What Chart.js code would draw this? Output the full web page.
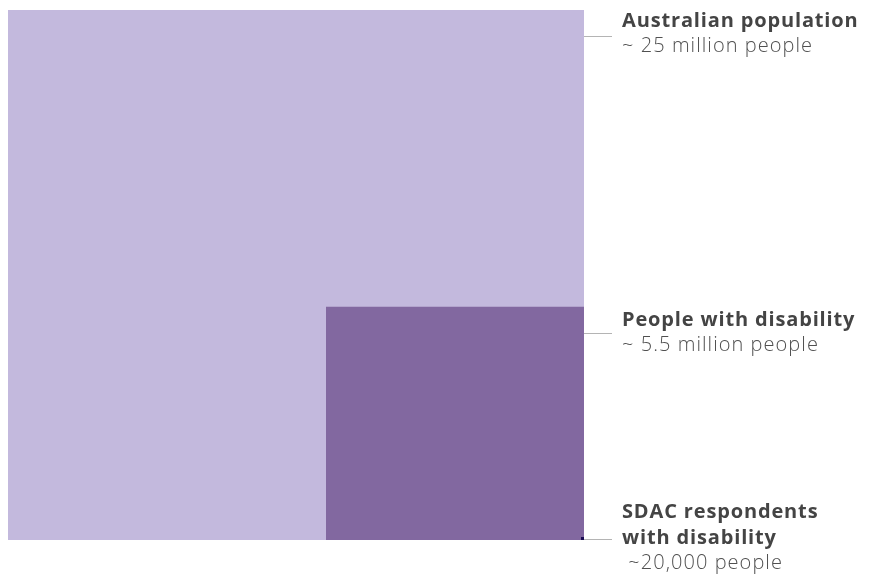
<!DOCTYPE html>
<html>
<head>
<meta charset="utf-8">
<script src="https://cdn.jsdelivr.net/npm/chart.js@4.4.1/dist/chart.umd.min.js"></script>
<style>
  html, body { margin: 0; padding: 0; background: #fff; }
  #wrap { width: 871px; height: 581px; }
</style>
</head>
<body>
<div id="wrap"><canvas id="chart"></canvas></div>
<script>
"use strict";

// groups, largest first; each box sits in the bottom-right corner of the outer box
var groupNames = ['Australian population', 'People with disability', 'SDAC respondents with disability'];
var groupTitles = [['Australian population'], ['People with disability'], ['SDAC respondents', 'with disability']];
var groupCounts = ['~ 25 million people', '~ 5.5 million people', ' ~20,000 people'];
// box size as a share of the outer box
var boxWidths = [1, 0.448, 0.0052];
var boxHeights = [1, 0.44, 0.0057];
var boxColors = ['#c3b9dd', '#8268a0', '#1b0d55'];

var datasets = groupNames.map(function (name, i) {
    return {
        label: name,
        data: [
            {x: 1 - boxWidths[i], y: boxHeights[i]},
            {x: 1, y: boxHeights[i]},
        ],
        showLine: true,
        fill: {value: 0},
        backgroundColor: boxColors[i],
        borderWidth: 0,
        pointRadius: 0,
        pointHoverRadius: 0,
        // bigger boxes go behind
        order: groupNames.length - i,
    };
});

var labelPlugin = {
    id: 'boxLabels',
    afterDraw: function (chart) {
        var ctx = chart.ctx;
        var xs = chart.scales.x;
        var ys = chart.scales.y;
        var right = xs.getPixelForValue(1);
        var textX = right + 38;
        ctx.save();
        groupNames.forEach(function (name, i) {
            var lineY, base;
            if (i < 2) {
                lineY = ys.getPixelForValue(boxHeights[i]) + 26;
                base = i === 0 ? lineY - 9 : lineY - 6.5;
            } else {
                lineY = ys.getPixelForValue(0) - 1.5;
                base = lineY - 21;
            }
            ctx.strokeStyle = '#b4b4b4';
            ctx.lineWidth = 1;
            ctx.beginPath();
            ctx.moveTo(right, Math.round(lineY) + 0.5);
            ctx.lineTo(right + 28, Math.round(lineY) + 0.5);
            ctx.stroke();

            var titles = groupTitles[i];
            ctx.textBaseline = 'alphabetic';
            ctx.textAlign = 'left';
            ctx.fillStyle = '#444444';
            ctx.font = 'bold 20px "Open Sans"';
            ctx.letterSpacing = '0.85px';
            titles.forEach(function (t, k) {
                ctx.fillText(t, textX, base + k * 26);
            });
            ctx.fillStyle = '#505050';
            ctx.font = '300 20px "Open Sans"';
            ctx.letterSpacing = '1.05px';
            ctx.fillText(groupCounts[i], textX, base + (titles.length - 1) * 26 + 25);
        });
        ctx.restore();
    }
};

new Chart(document.getElementById('chart'), {
    type: 'scatter',
    data: {datasets: datasets},
    options: {
        responsive: true,
        maintainAspectRatio: false,
        animation: false,
        layout: {padding: {left: 8, top: 10, right: 287, bottom: 41}},
        plugins: {
            legend: {display: false},
            tooltip: {enabled: false},
        },
        scales: {
            x: {type: 'linear', min: 0, max: 1, display: false},
            y: {type: 'linear', min: 0, max: 1, display: false},
        },
    },
    plugins: [labelPlugin],
});
</script>
</body>
</html>
